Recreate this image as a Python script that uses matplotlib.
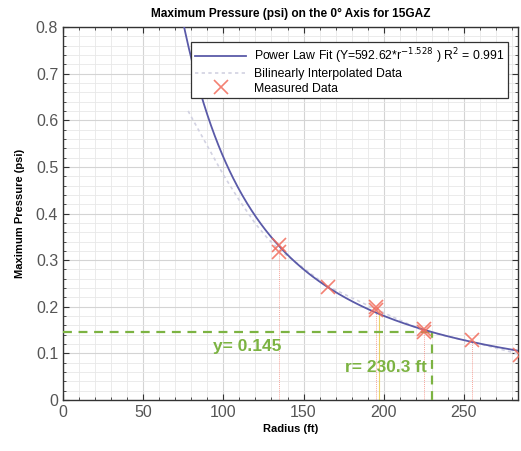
import numpy as np
import matplotlib
matplotlib.use("Agg")
import matplotlib.pyplot as plt
from matplotlib.ticker import MultipleLocator

plt.rcParams['font.family'] = ['Liberation Sans', 'DejaVu Sans']

# ---- data ----
fit_a = 592.62
fit_b = -1.528
fit_r2 = 0.991
fit_r = np.linspace(60, 290, 400)

bilin_r = [78, 90, 100, 110, 120, 128, 135, 165, 195, 225, 255, 285]
bilin_p = [0.62, 0.545, 0.483, 0.428, 0.378, 0.345, 0.322, 0.244, 0.195, 0.148, 0.125, 0.098]

meas_r = [135, 135, 165, 195, 195, 225, 225, 255, 285]
meas_p = [0.333, 0.318, 0.243, 0.200, 0.193, 0.152, 0.146, 0.128, 0.097]

stem_r = [135, 195, 225, 255, 285]
stem_p = [0.318, 0.193, 0.146, 0.128, 0.097]
yellow_r = 197
yellow_p = 0.19

thr_y = 0.145
thr_r = 230.3

xticks = [0, 50, 100, 150, 200, 250]
yticks = [0, 0.1, 0.2, 0.3, 0.4, 0.5, 0.6, 0.7, 0.8]
ytick_labels = ["0", "0.1", "0.2", "0.3", "0.4", "0.5", "0.6", "0.7", "0.8"]

green = "#7cb342"
blue = "#5a5aa8"
red = "#f26b5b"

fig = plt.figure(figsize=(5.21, 4.51), dpi=100)
ax = fig.add_axes([0.121, 0.113, 0.874, 0.827])

fit_p = fit_a * fit_r ** fit_b
ax.plot(fit_r, fit_p, color=blue, lw=1.3, zorder=4,
        label=r"Power Law Fit (Y=592.62*r$^{-1.528}$ ) R$^2$ = 0.991")
ax.plot(bilin_r, bilin_p, color="#d2d2e2", lw=1.2, ls=(0, (2, 2)), zorder=3,
        label="Bilinearly Interpolated Data")
ax.plot(meas_r, meas_p, ls="none", marker="x", ms=10, mew=1.2,
        color=red, alpha=0.85, zorder=5, label="Measured Data")

for r, p in zip(stem_r, stem_p):
    ax.plot([r, r], [0, p], color=red, lw=0.7, ls=(0, (1, 1)), alpha=0.6, zorder=2)
ax.plot([yellow_r, yellow_r], [0, yellow_p], color="#e8c840", lw=0.8, alpha=0.8, zorder=2)

ax.plot([0, thr_r], [thr_y, thr_y], color=green, lw=1.6, ls=(0, (4, 3)), zorder=3)
ax.plot([thr_r, thr_r], [0, thr_y], color=green, lw=1.6, ls=(0, (4, 3)), zorder=3)
ax.text(114.6, 0.114, f"y= {thr_y}", color=green, fontsize=12.5, fontweight="bold",
        ha="center", va="center", zorder=6)
ax.text(227, 0.069, f"r= {thr_r} ft", color=green, fontsize=12.5, fontweight="bold",
        ha="right", va="center", zorder=6)

ax.set_xlim(0, 284)
ax.set_ylim(0, 0.8)
ax.set_xticks(xticks)
ax.set_yticks(yticks)
ax.set_yticklabels(ytick_labels)
ax.xaxis.set_minor_locator(MultipleLocator(10))
ax.yaxis.set_minor_locator(MultipleLocator(0.02))
ax.grid(True, which="major", color="#d4d4d4", lw=0.8)
ax.grid(True, which="minor", color="#e8e8e8", lw=0.6)
ax.set_axisbelow(True)
ax.tick_params(which="both", direction="in", top=True, right=True, colors="#333333",
               labelcolor="#555555", labelsize=11.5)
ax.tick_params(which="major", length=4)
ax.tick_params(which="minor", length=2)
for s in ax.spines.values():
    s.set_color("#333333")
    s.set_linewidth(1.0)

ax.set_title("Maximum Pressure (psi) on the 0° Axis for 15GAZ", fontsize=8.6,
             fontweight="bold", pad=7)
ax.set_xlabel("Radius (ft)", fontsize=8, fontweight="bold", labelpad=3)
ax.set_ylabel("Maximum Pressure (psi)", fontsize=8, fontweight="bold", labelpad=8)

leg = ax.legend(loc="upper right", bbox_to_anchor=(0.99, 0.975), fontsize=8.8,
                frameon=True, fancybox=False, edgecolor="#333333",
                framealpha=1, borderpad=0.3, handlelength=4.2, handletextpad=0.6,
                labelspacing=0.2)
leg.get_frame().set_linewidth(0.9)

fig.savefig("out.png", dpi=100)
